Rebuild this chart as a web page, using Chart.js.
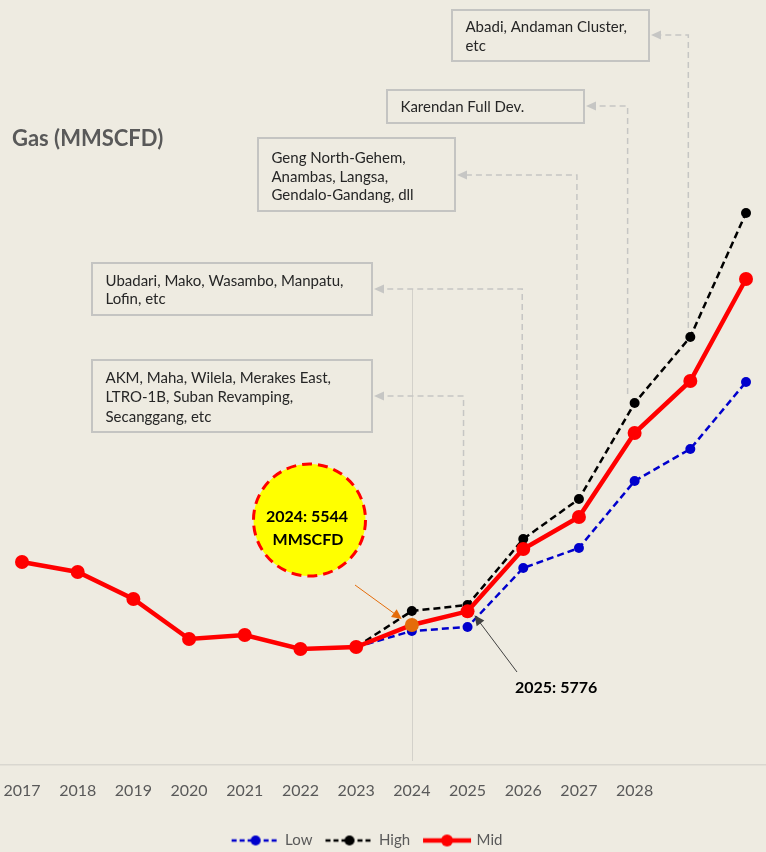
<!DOCTYPE html>
<html>
<head>
<meta charset="utf-8">
<script src="https://cdn.jsdelivr.net/npm/chart.js@4.4.0/dist/chart.umd.min.js"></script>
<style>
  html, body { margin: 0; padding: 0; background: #eeebe1; }
  canvas { display: block; }
</style>
</head>
<body>
<canvas id="gas" width="766" height="852"></canvas>
<script>
// values (MMSCFD)
const years = [2017, 2018, 2019, 2020, 2021, 2022, 2023, 2024, 2025, 2026, 2027, 2028, 2029, 2030];
const tickYears = [2017, 2018, 2019, 2020, 2021, 2022, 2023, 2024, 2025, 2026, 2027, 2028];
const midValues = [6615, 6445, 5986, 5306, 5374, 5136, 5170, 5544, 5776, 6836, 7380, 8808, 9692, 11426];
const highValues = [null, null, null, null, null, null, 5170, 5782, 5884, 7006, 7686, 9318, 10440, 12548];
const lowValues = [null, null, null, null, null, null, 5170, 5442, 5510, 6513, 6853, 7992, 8536, 9675];
const seriesNames = ['Low', 'High', 'Mid'];

const callouts = [
  { year: 2025, lines: ['AKM, Maha, Wilela, Merakes East,', 'LTRO-1B, Suban Revamping,', 'Secanggang, etc'] },
  { year: 2026, lines: ['Ubadari, Mako, Wasambo, Manpatu,', 'Lofin, etc'] },
  { year: 2027, lines: ['Geng North-Gehem,', 'Anambas, Langsa,', 'Gendalo-Gandang, dll'] },
  { year: 2028, lines: ['Karendan Full Dev.'] },
  { year: 2029, lines: ['Abadi, Andaman Cluster,', 'etc'] }
];
// box placement for each callout (same order)
const calloutBoxes = [
  { x: 92, y: 360, w: 280, h: 72, ty: 378, lh: 19.5, ay: 396, dx: -4 },
  { x: 92, y: 263, w: 280, h: 52, ty: 281, lh: 18.5, ay: 289, dx: -1 },
  { x: 258, y: 138, w: 197, h: 73, ty: 158, lh: 18.7, ay: 175, dx: -2 },
  { x: 387, y: 90, w: 197, h: 33, ty: 107, lh: 19, ay: 106, dx: -7 },
  { x: 452, y: 10, w: 197, h: 51, ty: 27, lh: 19, ay: 35, dx: -2 }
];

const FONT = "Lato, 'Open Sans', sans-serif";
Chart.defaults.font.family = FONT;

function toPoints(vals) {
  return years.map((yr, i) => ({ x: yr, y: vals[i] }));
}

function legendIcon(color, dash, lw, r) {
  const c = document.createElement('canvas');
  c.width = 50; c.height = 14;
  const g = c.getContext('2d');
  g.strokeStyle = color; g.lineWidth = lw;
  g.setLineDash(dash);
  g.beginPath(); g.moveTo(1, 7); g.lineTo(49, 7); g.stroke();
  g.setLineDash([]);
  g.fillStyle = color;
  g.beginPath(); g.arc(25, 7, r, 0, Math.PI * 2); g.fill();
  return c;
}
const legendIcons = [
  legendIcon('#0000cc', [5, 3], 2.5, 5),
  legendIcon('#000000', [5, 3], 2.5, 5),
  legendIcon('#ff0000', [], 4.5, 6)
];

function arrow(ctx, x1, y1, x2, y2, color, lw, head) {
  const a = Math.atan2(y2 - y1, x2 - x1);
  ctx.save();
  ctx.strokeStyle = color; ctx.fillStyle = color; ctx.lineWidth = lw;
  ctx.beginPath();
  ctx.moveTo(x1, y1);
  ctx.lineTo(x2 - Math.cos(a) * head * 0.8, y2 - Math.sin(a) * head * 0.8);
  ctx.stroke();
  ctx.beginPath();
  ctx.moveTo(x2, y2);
  ctx.lineTo(x2 - head * Math.cos(a - 0.45), y2 - head * Math.sin(a - 0.45));
  ctx.lineTo(x2 - head * Math.cos(a + 0.45), y2 - head * Math.sin(a + 0.45));
  ctx.closePath();
  ctx.fill();
  ctx.restore();
}

const overlay = {
  id: 'overlay',
  afterLayout(chart) {
    // legend sits a bit left of centre and lower in the reference
    const lg = chart.legend;
    lg.left -= 15; lg.right -= 15;
    lg.top += 6; lg.bottom += 6;
  },
  beforeDatasetsDraw(chart) {
    const { ctx, scales: { x, y } } = chart;
    ctx.save();
    // 2024 marker line
    const x24 = Math.round(x.getPixelForValue(2024)) + 0.5;
    ctx.strokeStyle = '#d3d1ca'; ctx.lineWidth = 1;
    ctx.beginPath(); ctx.moveTo(x24, 289); ctx.lineTo(x24, 761); ctx.stroke();

    callouts.forEach((c, k) => {
      const b = calloutBoxes[k];
      const i = years.indexOf(c.year);
      const px = x.getPixelForValue(c.year) + b.dx;
      const py = y.getPixelForValue(highValues[i]) - 9;
      const right = b.x + b.w;
      ctx.strokeStyle = '#c6c6c4'; ctx.lineWidth = 1.5;
      ctx.setLineDash([6, 4]);
      ctx.beginPath();
      ctx.moveTo(px, py); ctx.lineTo(px, b.ay); ctx.lineTo(right + 11, b.ay);
      ctx.stroke();
      ctx.setLineDash([]);
      ctx.fillStyle = '#c6c6c4';
      ctx.beginPath();
      ctx.moveTo(right + 2, b.ay); ctx.lineTo(right + 12, b.ay - 4.5); ctx.lineTo(right + 12, b.ay + 4.5);
      ctx.closePath(); ctx.fill();

      ctx.strokeStyle = '#c4c4c2'; ctx.lineWidth = 2;
      ctx.strokeRect(b.x, b.y, b.w, b.h);
      ctx.fillStyle = '#262626';
      ctx.font = '15px ' + FONT;
      ctx.textBaseline = 'middle'; ctx.textAlign = 'left';
      c.lines.forEach((t, j) => ctx.fillText(t, b.x + 13.5, b.ty + j * b.lh));
    });
    ctx.restore();
  },
  afterDatasetsDraw(chart) {
    const { ctx, scales: { x, y } } = chart;
    ctx.save();
    // title
    ctx.fillStyle = '#595959';
    ctx.font = 'bold 22px ' + FONT;
    ctx.textBaseline = 'middle'; ctx.textAlign = 'left';
    ctx.fillText('Gas (MMSCFD)', 12, 139);

    // 2024 bubble
    ctx.beginPath();
    ctx.arc(309.5, 520, 56, 0, Math.PI * 2);
    ctx.fillStyle = '#ffff00'; ctx.fill();
    ctx.setLineDash([10, 6]);
    ctx.strokeStyle = '#ff0000'; ctx.lineWidth = 3; ctx.stroke();
    ctx.setLineDash([]);
    ctx.fillStyle = '#000000';
    ctx.font = 'bold 16px ' + FONT;
    ctx.textAlign = 'center';
    ctx.fillText('2024: 5544', 307, 517);
    ctx.fillText('MMSCFD', 308, 540);

    const i24 = years.indexOf(2024), i25 = years.indexOf(2025);
    const p24x = x.getPixelForValue(2024), p24y = y.getPixelForValue(midValues[i24]);
    arrow(ctx, 355, 585, p24x - 10, p24y - 6, '#e46c0a', 1, 11);
    const p25x = x.getPixelForValue(2025), p25y = y.getPixelForValue(midValues[i25]);
    arrow(ctx, 517, 672, p25x + 7, p25y + 4, '#404040', 1, 11);
    ctx.textAlign = 'left';
    ctx.fillText('2025: 5776', 515, 688);
    ctx.restore();
  }
};

new Chart(document.getElementById('gas'), {
  type: 'line',
  data: {
    datasets: [
      {
        label: seriesNames[0], data: toPoints(lowValues), order: 2,
        borderColor: '#0000cc', backgroundColor: '#0000cc', borderWidth: 2.5, borderDash: [7, 4],
        pointRadius: 5, pointBorderWidth: 0, pointBackgroundColor: '#0000cc', spanGaps: false
      },
      {
        label: seriesNames[1], data: toPoints(highValues), order: 1,
        borderColor: '#000000', backgroundColor: '#000000', borderWidth: 2.5, borderDash: [7, 4],
        pointRadius: 5, pointBorderWidth: 0, pointBackgroundColor: '#000000'
      },
      {
        label: seriesNames[2], data: toPoints(midValues), order: 0,
        borderColor: '#ff0000', backgroundColor: '#ff0000', borderWidth: 4.5,
        pointRadius: 7, pointBorderWidth: 0,
        pointBackgroundColor: years.map(yr => yr === 2024 ? '#e46c0a' : '#ff0000')
      }
    ]
  },
  options: {
    responsive: false,
    animation: false,
    layout: { padding: 0, autoPadding: false },
    scales: {
      x: {
        type: 'linear',
        min: 2016.605,
        max: 2030.359,
        grid: { display: false, drawTicks: false },
        border: { display: true, color: '#d9d7d0', width: 1.5 },
        ticks: {
          stepSize: 1,
          includeBounds: false,
          autoSkip: false,
          maxRotation: 0,
          padding: 16,
          color: '#595959',
          font: { size: 16 },
          callback: v => tickYears.includes(v) ? String(v) : ''
        },
        afterFit: scale => {
          scale.height = 47;
          scale.paddingLeft = 0;
          scale.paddingRight = 0;
        }
      },
      y: { display: false, min: 3164, max: 16169 }
    },
    plugins: {
      tooltip: { enabled: false },
      legend: {
        position: 'bottom',
        labels: {
          usePointStyle: true,
          pointStyleWidth: 44,
          padding: 15,
          color: '#595959',
          font: { size: 15 },
          generateLabels: chart => Chart.defaults.plugins.legend.labels.generateLabels(chart)
            .sort((a, b) => a.datasetIndex - b.datasetIndex)
            .map(l => Object.assign(l, { pointStyle: legendIcons[l.datasetIndex] }))
        }
      }
    }
  },
  plugins: [overlay]
});
</script>
</body>
</html>
